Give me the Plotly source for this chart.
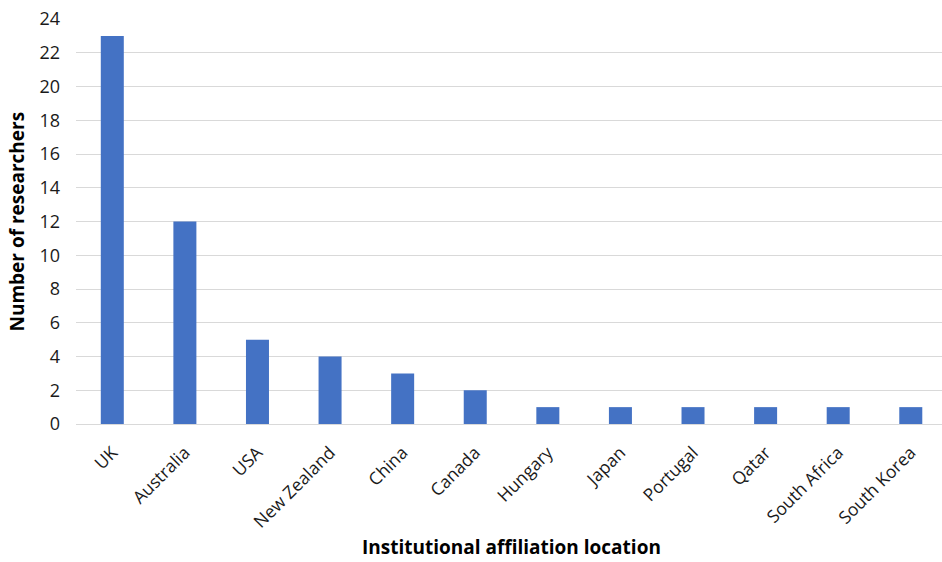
import plotly.graph_objects as go

countries = ["UK", "Australia", "USA", "New Zealand", "China", "Canada",
             "Hungary", "Japan", "Portugal", "Qatar", "South Africa", "South Korea"]
researchers = [23, 12, 5, 4, 3, 2, 1, 1, 1, 1, 1, 1]
y_ticks = list(range(0, 25, 2))

W, H = 942, 562
L, R, T, B = 76, 0, 19, 138

fig = go.Figure(
    go.Bar(
        x=list(range(len(countries))),
        y=researchers,
        width=0.317,
        marker=dict(color="#4472C4", line=dict(width=0)),
    )
)

fig.update_layout(
    width=W,
    height=H,
    margin=dict(l=L, r=R, t=T, b=B),
    paper_bgcolor="white",
    plot_bgcolor="white",
    showlegend=False,
    font=dict(family="Open Sans, sans-serif", color="#1a1a1a", size=17),
    xaxis=dict(
        range=[-0.5, 11.43],
        tickmode="array",
        tickvals=list(range(len(countries))),
        ticktext=countries,
        tickangle=-45,
        showgrid=False,
        zeroline=False,
        showline=False,
        ticks="",
        ticklabelstandoff=14,
        tickfont=dict(size=17.5),
    ),
    yaxis=dict(
        range=[0, 24],
        tickmode="array",
        tickvals=y_ticks,
        showgrid=True,
        gridcolor="#D9D9D9",
        gridwidth=1.3,
        zeroline=True,
        zerolinecolor="#D9D9D9",
        zerolinewidth=1.3,
        showline=False,
        ticks="",
        ticklabelstandoff=15,
        tickfont=dict(size=18),
    ),
    annotations=[
        dict(
            text="<b>Number of researchers</b>",
            xref="paper", yref="paper",
            x=-L / (W - L - R) + 16 / (W - L - R), y=0.5,
            xanchor="center", yanchor="middle",
            textangle=-90, showarrow=False,
            font=dict(size=19, color="#000000"),
        ),
        dict(
            text="<b>Institutional affiliation location</b>",
            xref="paper", yref="paper",
            x=(511 - L) / (W - L - R), y=-(547 - (H - B)) / (H - T - B),
            xanchor="center", yanchor="middle",
            showarrow=False,
            font=dict(size=19, color="#000000"),
        ),
    ],
)

fig.write_html("out.html")
